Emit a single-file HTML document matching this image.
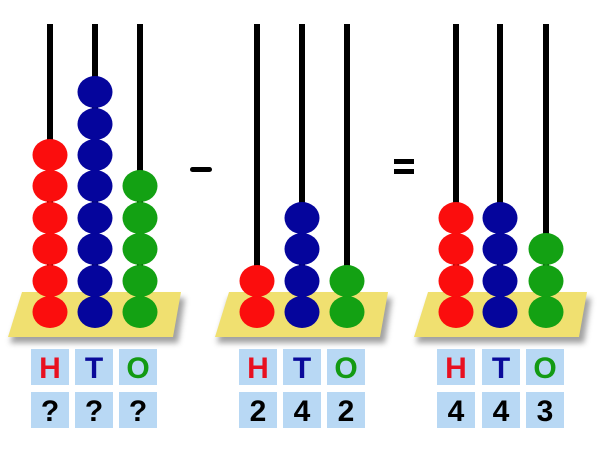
<!DOCTYPE html>
<html><head><style>
html,body{margin:0;padding:0;background:#fff;}
svg{display:block;}
text{font-family:"Liberation Sans",sans-serif;font-weight:bold;font-size:30px;text-anchor:middle;}
</style></head><body>
<svg width="600" height="450" viewBox="0 0 600 450" xmlns="http://www.w3.org/2000/svg">
<defs>
<filter id="sh" x="-10%" y="-20%" width="130%" height="160%"><feGaussianBlur stdDeviation="3"/></filter>
</defs>
<g fill="#000">
<rect x="47" y="24" width="6" height="290"/><rect x="92" y="24" width="6" height="290"/><rect x="137" y="24" width="6" height="290"/>
<rect x="254" y="24" width="6" height="290"/><rect x="299" y="24" width="6" height="290"/><rect x="344" y="24" width="6" height="290"/>
<rect x="453" y="24" width="6" height="290"/><rect x="497" y="24" width="6" height="290"/><rect x="543" y="24" width="6" height="290"/>
</g>
<g>
<polygon points="24,298 185,298 178,343 10,343" fill="#555" opacity="0.55" filter="url(#sh)"/>
<polygon points="22,292 181,292 173,337 8,337" fill="#f0e070"/>
<polygon points="229,298 392,298 385,343 217,343" fill="#555" opacity="0.55" filter="url(#sh)"/>
<polygon points="229,292 388,292 380,337 215,337" fill="#f0e070"/>
<polygon points="430,298 591,298 584,343 416,343" fill="#555" opacity="0.55" filter="url(#sh)"/>
<polygon points="428,292 587,292 579,337 414,337" fill="#f0e070"/>
</g>
<g fill="#fb0d0d">
<ellipse cx="50" cy="312" rx="17.5" ry="16"/><ellipse cx="50" cy="281" rx="17.5" ry="16"/><ellipse cx="50" cy="249" rx="17.5" ry="16"/><ellipse cx="50" cy="218" rx="17.5" ry="16"/><ellipse cx="50" cy="186" rx="17.5" ry="16"/><ellipse cx="50" cy="155" rx="17.5" ry="16"/>
<ellipse cx="257" cy="312" rx="17.5" ry="16"/><ellipse cx="257" cy="281" rx="17.5" ry="16"/>
<ellipse cx="456" cy="312" rx="17.5" ry="16"/><ellipse cx="456" cy="281" rx="17.5" ry="16"/><ellipse cx="456" cy="249" rx="17.5" ry="16"/><ellipse cx="456" cy="218" rx="17.5" ry="16"/>
</g>
<g fill="#05059c">
<ellipse cx="95" cy="312" rx="17.5" ry="16"/><ellipse cx="95" cy="281" rx="17.5" ry="16"/><ellipse cx="95" cy="249" rx="17.5" ry="16"/><ellipse cx="95" cy="218" rx="17.5" ry="16"/><ellipse cx="95" cy="186" rx="17.5" ry="16"/><ellipse cx="95" cy="155" rx="17.5" ry="16"/><ellipse cx="95" cy="124" rx="17.5" ry="16"/><ellipse cx="95" cy="92" rx="17.5" ry="16"/>
<ellipse cx="302" cy="312" rx="17.5" ry="16"/><ellipse cx="302" cy="281" rx="17.5" ry="16"/><ellipse cx="302" cy="249" rx="17.5" ry="16"/><ellipse cx="302" cy="218" rx="17.5" ry="16"/>
<ellipse cx="500" cy="312" rx="17.5" ry="16"/><ellipse cx="500" cy="281" rx="17.5" ry="16"/><ellipse cx="500" cy="249" rx="17.5" ry="16"/><ellipse cx="500" cy="218" rx="17.5" ry="16"/>
</g>
<g fill="#13a113">
<ellipse cx="140" cy="312" rx="17.5" ry="16"/><ellipse cx="140" cy="281" rx="17.5" ry="16"/><ellipse cx="140" cy="249" rx="17.5" ry="16"/><ellipse cx="140" cy="218" rx="17.5" ry="16"/><ellipse cx="140" cy="186" rx="17.5" ry="16"/>
<ellipse cx="347" cy="312" rx="17.5" ry="16"/><ellipse cx="347" cy="281" rx="17.5" ry="16"/>
<ellipse cx="546" cy="312" rx="17.5" ry="16"/><ellipse cx="546" cy="281" rx="17.5" ry="16"/><ellipse cx="546" cy="249" rx="17.5" ry="16"/>
</g>
<rect x="190" y="167" width="22" height="5" rx="2.5" fill="#000"/>
<rect x="394" y="159" width="20" height="5" fill="#000"/>
<rect x="394" y="169" width="20" height="5" fill="#000"/>
<g fill="#b8d8f4">
<rect x="31" y="349" width="38" height="36"/><rect x="75" y="349" width="38" height="36"/><rect x="119" y="349" width="38" height="36"/>
<rect x="31" y="392" width="38" height="36"/><rect x="75" y="392" width="38" height="36"/><rect x="119" y="392" width="38" height="36"/>
<rect x="239" y="349" width="38" height="36"/><rect x="283" y="349" width="38" height="36"/><rect x="327" y="349" width="38" height="36"/>
<rect x="239" y="392" width="38" height="36"/><rect x="283" y="392" width="38" height="36"/><rect x="327" y="392" width="38" height="36"/>
<rect x="437" y="349" width="38" height="36"/><rect x="482" y="349" width="38" height="36"/><rect x="526" y="349" width="38" height="36"/>
<rect x="437" y="392" width="38" height="36"/><rect x="482" y="392" width="38" height="36"/><rect x="526" y="392" width="38" height="36"/>
</g>
<g>
<text x="50" y="378" fill="#e81020">H</text><text x="94" y="378" fill="#0a0a9a">T</text><text x="138" y="378" fill="#139a13">O</text>
<text x="258" y="378" fill="#e81020">H</text><text x="302" y="378" fill="#0a0a9a">T</text><text x="346" y="378" fill="#139a13">O</text>
<text x="456" y="378" fill="#e81020">H</text><text x="501" y="378" fill="#0a0a9a">T</text><text x="545" y="378" fill="#139a13">O</text>
<text x="50" y="421" fill="#000">?</text><text x="94" y="421" fill="#000">?</text><text x="138" y="421" fill="#000">?</text>
<text x="258" y="421" fill="#000">2</text><text x="302" y="421" fill="#000">4</text><text x="346" y="421" fill="#000">2</text>
<text x="456" y="421" fill="#000">4</text><text x="501" y="421" fill="#000">4</text><text x="545" y="421" fill="#000">3</text>
</g>
</svg>
</body></html>
